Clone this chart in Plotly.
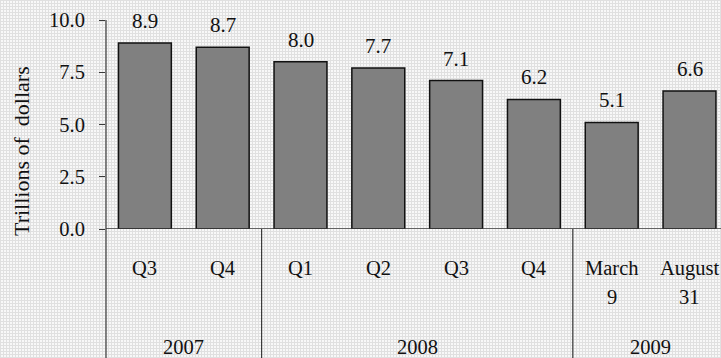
import base64
import plotly.graph_objects as go

# ---- data ----
top_labels = ["Q3", "Q4", "Q1", "Q2", "Q3", "Q4", "March", "August"]
sub_labels = ["", "", "", "", "", "", "9", "31"]
values = [8.9, 8.7, 8.0, 7.7, 7.1, 6.2, 5.1, 6.6]
years = ["2007", "2008", "2009"]
year_spans = [(0, 1), (2, 5), (6, 7)]
y_ticks = [0, 2.5, 5.0, 7.5, 10.0]

W, H = 721, 358
ML, MT, MB, MR = 106, 20, 129, 0
PW, PH = W - ML - MR, H - MT - MB

FONT = "Liberation Serif"
FS = 20.5
AXC = "#3a3a3a"
TXT = "#111111"

xs = list(range(len(values)))

fig = go.Figure()
fig.add_trace(go.Bar(
    x=xs, y=values, width=0.68,
    marker=dict(color="#808080", line=dict(color="#111111", width=1.5)),
    hoverinfo="skip",
))

def py(p):  # pixel y -> paper y
    return (MT + PH - p) / PH

def px(p):
    return (p - ML) / PW

ann = []
for x, v in zip(xs, values):
    ann.append(dict(x=x, y=v, xref="x", yref="y", text=f"{v:.1f}", showarrow=False,
                    yanchor="middle", yshift=22, font=dict(size=21, color=TXT, family=FONT)))
for x, t in zip(xs, top_labels):
    ann.append(dict(x=x, y=py(268), xref="x", yref="paper", text=t, showarrow=False,
                    yanchor="middle", font=dict(size=FS, color=TXT, family=FONT)))
for x, t in zip(xs, sub_labels):
    if t:
        ann.append(dict(x=x, y=py(297), xref="x", yref="paper", text=t, showarrow=False,
                        yanchor="middle", font=dict(size=FS, color=TXT, family=FONT)))
for yr, (a, b) in zip(years, year_spans):
    ann.append(dict(x=(a + b) / 2, y=py(347), xref="x", yref="paper", text=yr, showarrow=False,
                    yanchor="middle", font=dict(size=FS, color=TXT, family=FONT)))
ann.append(dict(x=px(21), y=py(151), xref="paper", yref="paper", text="Trillions of\u00a0 dollars",
                textangle=-90, showarrow=False, xanchor="center", yanchor="middle",
                font=dict(size=22, color=TXT, family=FONT)))

shapes = []
shapes.append(dict(type="line", xref="paper", yref="paper", x0=0, x1=0, y0=1, y1=py(H + 2),
                   line=dict(color=AXC, width=1.2)))
shapes.append(dict(type="line", xref="paper", yref="y", x0=0, x1=1, y0=0, y1=0,
                   line=dict(color=AXC, width=1.5)))
for a, b in year_spans[:-1]:
    shapes.append(dict(type="line", xref="x", yref="paper", x0=b + 0.5, x1=b + 0.5,
                       y0=0, y1=py(H + 2), line=dict(color=AXC, width=1.2)))

svg = ("<svg xmlns='http://www.w3.org/2000/svg' width='%d' height='%d'>"
       "<defs><pattern id='p' width='3' height='3' patternUnits='userSpaceOnUse'>"
       "<rect width='3' height='3' fill='#f8f8f8'/>"
       "<rect width='3' height='1' fill='#e0e0e0'/>"
       "<rect width='1' height='3' fill='#e0e0e0'/>"
       "</pattern></defs><rect width='100%%' height='100%%' fill='url(#p)'/></svg>") % (W, H)
src = "data:image/svg+xml;base64," + base64.b64encode(svg.encode()).decode()

fig.update_layout(
    width=W, height=H,
    margin=dict(l=ML, r=MR, t=MT, b=MB),
    paper_bgcolor="#efefef",
    plot_bgcolor="rgba(0,0,0,0)",
    showlegend=False,
    annotations=ann,
    shapes=shapes,
    images=[dict(source=src, xref="paper", yref="paper", x=-ML / PW, y=1 + MT / PH,
                 sizex=W / PW, sizey=H / PH, xanchor="left", yanchor="top",
                 sizing="stretch", layer="below")],
    xaxis=dict(range=[-0.5, -0.5 + PW / 77.8], showticklabels=False, ticks="",
               showgrid=False, zeroline=False, showline=False, fixedrange=True),
    yaxis=dict(range=[0, 10], tickvals=y_ticks, ticktext=[f"{t:.1f}" for t in y_ticks],
               ticks="outside", ticklen=6, tickcolor=AXC, tickwidth=1.2,
               ticklabelstandoff=10,
               tickfont=dict(size=FS, color=TXT, family=FONT),
               showgrid=False, zeroline=False, showline=False, fixedrange=True),
)

fig.write_html("out.html")
